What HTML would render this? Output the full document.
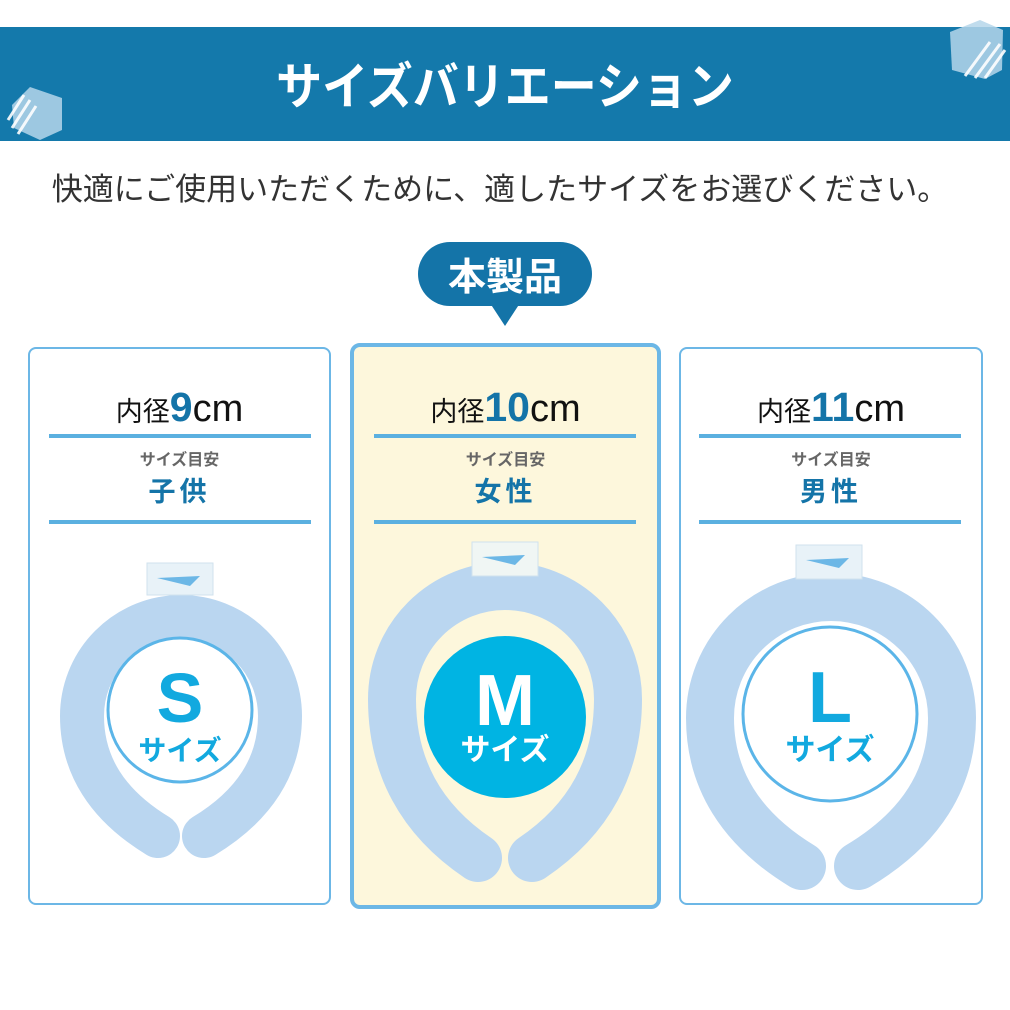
<!DOCTYPE html>
<html><head><meta charset="utf-8"><style>
*{margin:0;padding:0;box-sizing:border-box}
body{width:1010px;height:1010px;background:#fff;position:relative;overflow:hidden;font-family:"Liberation Sans","Noto Sans CJK JP",sans-serif}
.abs{position:absolute}
.banner{left:0;top:27px;width:1010px;height:114px;background:#1479ab}
.title{left:0;top:52px;width:1010px;text-align:center;color:#fff;font-size:50px;font-weight:bold;line-height:70px;transform:scaleX(0.92)}
.sub{left:0;top:168px;width:1010px;text-align:center;color:#333;font-size:31px;line-height:44px;padding-right:10px}
.card{border:2px solid #6cb7e6;border-radius:8px;background:#fff}
.cm{width:100%;text-align:center;font-size:27px;line-height:44px;color:#111}
.cm b{font-size:41px;color:#1474a8;font-weight:bold}
.cm i{font-style:normal;font-size:38px}
.ln{height:4px;background:#5bb0e0}
.g{text-align:center;color:#666;font-size:16px;font-weight:bold;line-height:20px}
.k{text-align:center;color:#1474a8;font-size:27px;font-weight:bold;line-height:34px;letter-spacing:4px}
</style></head><body>
<div class="abs banner"></div>
<svg class="abs" style="left:0;top:0" width="1010" height="150">
<polygon points="30,87 62,98 62,130 40,140 14,128 12,105" fill="#b5d6ea" opacity="0.85"/>
<g stroke="#fff" stroke-width="3" opacity="0.9"><line x1="8" y1="120" x2="24" y2="95"/><line x1="12" y1="128" x2="30" y2="100"/><line x1="18" y1="134" x2="36" y2="106"/></g>
<polygon points="980,20 1003,30 1002,70 985,79 952,70 950,32" fill="#b5d6ea" opacity="0.85"/>
<g stroke="#fff" stroke-width="3" opacity="0.9"><line x1="985" y1="78" x2="1005" y2="50"/><line x1="975" y1="78" x2="1000" y2="44"/><line x1="965" y1="76" x2="990" y2="42"/></g>
</svg>
<div class="abs title">サイズバリエーション</div>
<div class="abs sub">快適にご使用いただくために、適したサイズをお選びください。</div>
<svg class="abs" style="left:0;top:0" width="1010" height="340">
<rect x="418" y="242" width="174" height="64" rx="32" fill="#1474a8"/>
<polygon points="488,300 522,300 505,326" fill="#1474a8"/>
<text x="505" y="290" text-anchor="middle" fill="#fff" font-size="38" font-weight="bold" font-family="Liberation Sans,Noto Sans CJK JP,sans-serif">本製品</text>
</svg>

<div class="abs card" style="left:28px;top:347px;width:303px;height:558px"></div>
<div class="abs card" style="left:350px;top:343px;width:311px;height:566px;border:4px solid #6cb7e6;background:#fdf7dc;border-radius:10px"></div>
<div class="abs card" style="left:679px;top:347px;width:304px;height:558px"></div>

<div class="abs cm" style="left:28px;top:385px;width:303px">内径<b>9</b><i>cm</i></div>
<div class="abs cm" style="left:350px;top:385px;width:311px">内径<b>10</b><i>cm</i></div>
<div class="abs cm" style="left:679px;top:385px;width:304px">内径<b>11</b><i>cm</i></div>
<div class="abs ln" style="left:49px;top:434px;width:262px"></div>
<div class="abs ln" style="left:374px;top:434px;width:262px"></div>
<div class="abs ln" style="left:699px;top:434px;width:262px"></div>
<div class="abs ln" style="left:49px;top:520px;width:262px"></div>
<div class="abs ln" style="left:374px;top:520px;width:262px"></div>
<div class="abs ln" style="left:699px;top:520px;width:262px"></div>
<div class="abs g" style="left:28px;top:451px;width:303px">サイズ目安</div>
<div class="abs g" style="left:350px;top:451px;width:311px">サイズ目安</div>
<div class="abs g" style="left:679px;top:451px;width:304px">サイズ目安</div>
<div class="abs k" style="left:28px;top:475px;width:303px">子供</div>
<div class="abs k" style="left:350px;top:475px;width:311px">女性</div>
<div class="abs k" style="left:679px;top:475px;width:304px">男性</div>

<svg class="abs" style="left:0;top:0" width="1010" height="1010" font-family="Liberation Sans,Noto Sans CJK JP,sans-serif">
<g fill="none" stroke-linecap="round">
<path d="M158 836 Q 82 790 82 716 A 99 99 0 0 1 280 716 Q 280 790 204 836" stroke="#bad6f0" stroke-width="44"/>
<path d="M478 858 Q 392 800 392 699 A 113 113 0 0 1 618 699 Q 618 800 532 858" stroke="#bad6f0" stroke-width="48"/>
<path d="M802 866 Q 710 810 710 718 A 121 121 0 0 1 952 718 Q 952 810 858 866" stroke="#bad6f0" stroke-width="48"/>
</g>
<g>
<rect x="147" y="563" width="66" height="32" fill="#e8f2f8" stroke="#d0e2ee"/>
<path d="M157 578 L200 576 L190 586 Z" fill="#6cb7e6"/>
<rect x="472" y="542" width="66" height="34" fill="#f0f6f4" stroke="#d0e2ee"/>
<path d="M482 557 L525 555 L515 565 Z" fill="#6cb7e6"/>
<rect x="796" y="545" width="66" height="34" fill="#e8f2f8" stroke="#d0e2ee"/>
<path d="M806 560 L849 558 L839 568 Z" fill="#6cb7e6"/>
</g>
<circle cx="180" cy="710" r="72" fill="#fff" stroke="#5bb5e8" stroke-width="3"/>
<text x="180" y="722" text-anchor="middle" fill="#12a9df" font-size="70" font-weight="bold">S</text>
<text x="180" y="760" text-anchor="middle" fill="#12a9df" font-size="28" font-weight="bold">サイズ</text>
<circle cx="505" cy="717" r="81" fill="#00b4e3"/>
<text x="505" y="725" text-anchor="middle" fill="#fff" font-size="72" font-weight="bold">M</text>
<text x="505" y="760" text-anchor="middle" fill="#fff" font-size="30" font-weight="bold">サイズ</text>
<circle cx="830" cy="714" r="87" fill="#fff" stroke="#5bb5e8" stroke-width="3"/>
<text x="830" y="722" text-anchor="middle" fill="#12a9df" font-size="72" font-weight="bold">L</text>
<text x="830" y="760" text-anchor="middle" fill="#12a9df" font-size="30" font-weight="bold">サイズ</text>
</svg>
</body></html>
